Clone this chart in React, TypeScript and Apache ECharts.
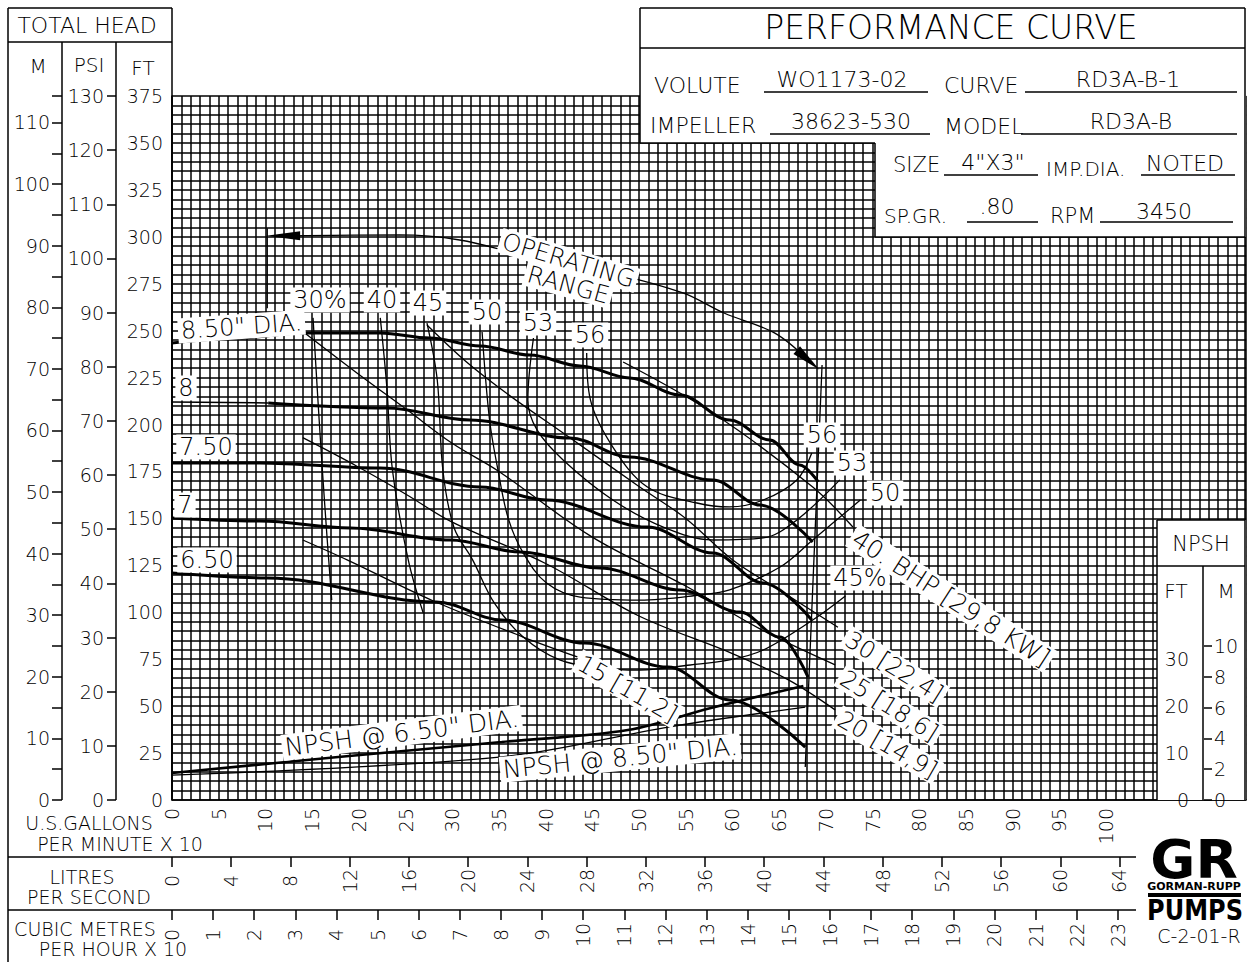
import React, { useEffect, useRef } from 'react';
import * as echarts from 'echarts';

const FONT = '"DejaVu Sans", "Liberation Sans", sans-serif';
const FW = 200;

// ---------- axis ranges ----------
const FLOW_MAX = 115;            // grid extent in US GPM x 10
const FLOW_LABEL_MAX = 100;
const HEAD_MAX = 375;            // ft
const M_PER_FT = 1 / 3.28084;
const PSI_MAX = 130;
const LPS_MAX = 64;
const M3H_MAX = 23;
const NPSH_FT_MAX = 150;         // NPSH ft at top of main grid
const NPSH_M_TOP = 10;

// ---------- head curves (x = GPM x 10, y = ft) ----------
const head850 = [[0, 243.4], [7.3, 246.1], [13.7, 248.8], [22.3, 248.8], [27.6, 246.1], [33, 241.8], [38.3, 237], [43.7, 231.2], [49, 224.8], [54.4, 215.7], [59.7, 202.4], [64, 191.8], [67.2, 178.5], [69.2, 169.4]];
const head800 = [[0, 212], [10.3, 211.5], [23, 208.8], [31.9, 202.4], [42.6, 192.8], [49, 182.7], [57.9, 170.5], [63, 157.1], [68.6, 137.4]];
const head750 = [[0, 179.5], [9.4, 179.5], [22.3, 176.8], [33, 166.7], [40.1, 159.8], [50.9, 145.4], [57.9, 131.6], [63.3, 115.6], [68.5, 95.9]];
const head700 = [[0, 150.2], [9.4, 148.6], [19.1, 144.9], [29.8, 138.5], [37.3, 132.1], [45.8, 123.6], [54.4, 111.9], [60.8, 100.1], [65.1, 86.8], [68.1, 65.5]];
const head650 = [[0, 120.9], [10.2, 118.3], [28.3, 105.5], [35.3, 95.9], [44.2, 83.6], [53.1, 70.8], [59.7, 53.3], [67.8, 28.2]];

// ---------- efficiency contours (%) ----------
const eff30 = [[15.1, 256.8], [15.6, 215], [16.1, 175.8], [16.6, 140], [17.1, 106.5]];
const eff40 = [[22.3, 256.8], [23.0, 220], [23.6, 175.8], [25.3, 127.8], [26.9, 99.6]];
const eff45 = [[27.3, 254], [28.4, 223.7], [29.0, 175.8], [30.2, 145], [32.2, 127.8], [34.5, 105], [37.6, 86.8], [41.5, 74.6], [45.8, 70.3], [50.1, 69.2], [55.5, 71.9], [59.7, 74.6], [63.3, 79.9], [68.6, 95.9], [72.1, 108.7]];
const eff50 = [[33.2, 249.3], [34.0, 202.4], [34.9, 175.8], [36.0, 150], [37.6, 131.6], [40.1, 115.6], [43.7, 108.1], [50.1, 106.5], [56.5, 109.2], [59.7, 111.9], [65.1, 124.1], [68.6, 138.5], [73.7, 159.8]];
const eff53 = [[38.7, 246.1], [38.1, 213], [39.1, 197], [41.9, 181], [47.2, 159.8], [52.6, 145.4], [57.9, 138.5], [63.3, 139.6], [66.9, 149.2], [71.5, 170.5]];
const eff56 = [[44.4, 238.1], [44.8, 213.1], [47.2, 188], [50.9, 166.7], [56.2, 158.2], [59.7, 156.1], [63.3, 159.8], [66.9, 170.5], [68.5, 184.8]];

// ---------- BHP lines ----------
const bhp40 = [[48.3, 233.3], [57.9, 206.1], [68.6, 166.7], [72.9, 145.4]];
const bhp30 = [[27.3, 253], [31.6, 233], [36, 216], [42.6, 193], [50, 167], [55, 150], [60, 128], [65, 112], [71.3, 92]];
const bhp25 = [[13.9, 250], [19.8, 227.5], [25.2, 207.7], [30, 190], [35, 175], [45, 140], [55, 114], [63, 91], [71, 72]];
const bhp20 = [[14.0, 193], [19.8, 177.8], [25, 163], [30, 148], [40, 126], [50, 98], [60, 78], [66, 64], [71, 48]];
const bhp15 = [[14.0, 138.5], [18.8, 127.8], [28, 106], [37.6, 86.8], [43.4, 76.2]];

// ---------- NPSH required (ft) ----------
const npsh650 = [[0, 5.75], [17.8, 9.16], [35.3, 12.36], [48.8, 14.9], [57.7, 19.6], [67.6, 24.3]];
const npsh850 = [[0, 5.3], [35.3, 9.2], [53.3, 15.6], [67.8, 19.8]];

// ---------- operating range ----------
const rangeCurve = [[11.9, 300.5], [24.4, 301], [30.8, 298.3], [37.6, 290.3], [47.1, 280.7], [54.7, 270.1], [59.1, 259.4], [64.5, 248.8], [68.1, 234.4]];
const rangeLeft = [[10.2, 304.6], [10.2, 262]];
const rangeRight = [[69.6, 231.7], [67.8, 17.6]];

const BLACK = '#000';

function lineSeries(data: any[], width: number, extra: any = {}) {
  return {
    type: 'line',
    data,
    xAxisIndex: 0,
    yAxisIndex: 0,
    symbol: 'none',
    showSymbol: false,
    smooth: 0.35,
    lineStyle: { color: BLACK, width },
    z: 5,
    silent: true,
    ...extra,
  };
}

function L(x1: number, y1: number, x2: number, y2: number, w = 1.5) {
  return { type: 'line', shape: { x1, y1, x2, y2 }, style: { stroke: BLACK, lineWidth: w }, z: 100, silent: true };
}
function R(x: number, y: number, width: number, height: number, fill = '#fff', z = 90) {
  return { type: 'rect', shape: { x, y, width, height }, style: { fill }, z, silent: true };
}
function T(text: string, x: number, y: number, size: number, o: any = {}) {
  return {
    type: 'text', x, y, rotation: o.rot || 0, scaleX: o.sx || 1, scaleY: o.sy || 1, z: 110, silent: true,
    style: {
      text, fontSize: size, fontFamily: FONT, fontWeight: o.fw || FW, fill: BLACK,
      align: o.align || 'center', verticalAlign: o.va || 'middle',
      backgroundColor: o.bg ? '#fff' : 'transparent', padding: o.bg ? [1, 3, 0, 3] : 0,
    },
  };
}

const gridLine = { show: true, lineStyle: { color: BLACK, width: 1.5 } };

export default function App() {
  const ref = useRef<HTMLDivElement>(null);
  useEffect(() => {
    const chart = echarts.init(ref.current as HTMLDivElement, null, { renderer: 'svg' });
    const pxPerFlow = 9.34;
    const mainW = FLOW_MAX * pxPerFlow;
    const lpsW = (LPS_MAX / 0.0630902 / 10) * pxPerFlow;
    const m3hW = (M3H_MAX / 0.227125) * pxPerFlow;

    const axisLabel = { color: BLACK, fontSize: 19, fontFamily: FONT, fontWeight: FW };

    const option: any = {
      animation: false,
      backgroundColor: '#fff',
      textStyle: { fontFamily: FONT },
      grid: [
        { left: 172, top: 96, width: mainW, height: 704 },
        { left: 1203, top: 646, width: 1, height: 154 },
        { left: 172, top: 852, width: lpsW, height: 5 },
        { left: 172, top: 905, width: m3hW, height: 5 },
      ],
      xAxis: [
        {
          gridIndex: 0, type: 'value', min: 0, max: FLOW_MAX, interval: 5,
          axisLine: { show: true, lineStyle: { color: BLACK, width: 1.5 } },
          axisTick: { show: false },
          axisLabel: { ...axisLabel, rotate: 90, margin: 8, formatter: (v: number) => (v <= FLOW_LABEL_MAX ? String(v) : '') },
          splitLine: gridLine,
          minorTick: { show: false, splitNumber: 5 },
          minorSplitLine: gridLine,
        },
        { gridIndex: 1, type: 'value', min: 0, max: 1, show: false },
        {
          gridIndex: 2, type: 'value', min: 0, max: LPS_MAX, interval: 4,
          axisLine: { show: false },
          axisTick: { show: true, length: 10, lineStyle: { color: BLACK, width: 1.5 } },
          axisLabel: { ...axisLabel, rotate: 90, margin: 24, align: 'center' },
          splitLine: { show: false },
        },
        {
          gridIndex: 3, type: 'value', min: 0, max: M3H_MAX, interval: 1,
          axisLine: { show: false },
          axisTick: { show: true, length: 10, lineStyle: { color: BLACK, width: 1.5 } },
          axisLabel: { ...axisLabel, rotate: 90, margin: 25, align: 'center' },
          splitLine: { show: false },
        },
      ],
      yAxis: [
        {
          gridIndex: 0, type: 'value', position: 'left', min: 0, max: HEAD_MAX, interval: 25,
          axisLine: { show: true, lineStyle: { color: BLACK, width: 1.5 } },
          axisTick: { show: false },
          axisLabel: { ...axisLabel, margin: 9 },
          splitLine: gridLine,
          minorTick: { show: false, splitNumber: 5 },
          minorSplitLine: gridLine,
        },
        {
          gridIndex: 0, type: 'value', position: 'left', offset: 110, min: 0, max: HEAD_MAX * M_PER_FT, interval: 5,
          axisLine: { show: false },
          axisTick: { show: true, length: 10, lineStyle: { color: BLACK, width: 1.5 } },
          axisLabel: { ...axisLabel, margin: 12, formatter: (v: number) => (v % 10 === 0 ? String(v) : '') },
          splitLine: { show: false },
        },
        {
          gridIndex: 0, type: 'value', position: 'left', offset: 56, min: 0, max: PSI_MAX, interval: 10,
          axisLine: { show: false },
          axisTick: { show: true, length: 9, lineStyle: { color: BLACK, width: 1.5 } },
          axisLabel: { ...axisLabel, margin: 12 },
          splitLine: { show: false },
        },
        {
          gridIndex: 1, type: 'value', position: 'left', min: 0, max: NPSH_M_TOP / M_PER_FT, interval: 10, z: 200,
          axisLine: { show: false }, axisTick: { show: false },
          axisLabel: { ...axisLabel, margin: 14, formatter: (v: number) => (v % 10 === 0 ? String(v) : '') },
          splitLine: { show: false },
        },
        {
          gridIndex: 1, type: 'value', position: 'right', min: 0, max: NPSH_M_TOP, interval: 2, z: 200,
          axisLine: { show: false },
          axisTick: { show: true, length: 8, lineStyle: { color: BLACK, width: 1.5 } },
          axisLabel: { ...axisLabel, margin: 10 },
          splitLine: { show: false },
        },
        { gridIndex: 0, type: 'value', min: 0, max: NPSH_FT_MAX, show: false },
        { gridIndex: 2, type: 'value', show: false },
        { gridIndex: 3, type: 'value', show: false },
      ],
      series: [
        lineSeries(head850, 3, { smoothMonotone: 'x' }),
        lineSeries(head800.slice(0, 2), 1.4, { smooth: false }),
        lineSeries(head800.slice(1), 3, { smoothMonotone: 'x' }),
        lineSeries(head750, 3, { smoothMonotone: 'x' }),
        lineSeries(head700, 3, { smoothMonotone: 'x' }),
        lineSeries(head650, 3, { smoothMonotone: 'x' }),
        lineSeries(eff30, 1.3),
        lineSeries(eff40, 1.3),
        lineSeries(eff45, 1.3),
        lineSeries(eff50, 1.3),
        lineSeries(eff53, 1.3),
        lineSeries(eff56, 1.3),
        lineSeries(bhp40, 1.3),
        lineSeries(bhp30, 1.3),
        lineSeries(bhp25, 1.3),
        lineSeries(bhp20, 1.3),
        lineSeries(bhp15, 1.3),
        lineSeries(npsh650, 2.6, { yAxisIndex: 5 }),
        lineSeries(npsh850, 1.3, { yAxisIndex: 5 }),
        lineSeries(
          rangeCurve.map((p, i) =>
            i === 0
              ? { value: p, symbol: 'triangle', symbolSize: [9, 34], symbolRotate: 90 }
              : i === rangeCurve.length - 1
                ? { value: p, symbol: 'triangle', symbolSize: [10, 30], symbolRotate: -131 }
                : { value: p, symbol: 'none' }
          ),
          1.3,
          { showSymbol: true, symbol: 'none', itemStyle: { color: BLACK }, z: 6 }
        ),
        lineSeries(rangeLeft, 1.3, { smooth: false }),
        lineSeries(rangeRight, 1.3, { smooth: false }),
      ],
      graphic: [
        // white masks over grid
        R(640, 8, 606, 135),
        R(875, 140, 371, 97),
        R(1157, 520, 89, 280),
        // frame & boxes
        L(8, 8, 172, 8), L(8, 8, 8, 962), L(8, 42, 172, 42), L(172, 8, 172, 800),
        L(62, 42, 62, 800), L(116, 42, 116, 800),
        L(640, 8, 1245, 8), L(1245, 8, 1245, 800), L(640, 48, 1245, 48), L(640, 8, 640, 143),
        L(640, 143, 875, 143), L(875, 143, 875, 237), L(875, 237, 1245, 237),
        L(1157, 520, 1245, 520), L(1157, 520, 1157, 800), L(1157, 566, 1245, 566), L(1203, 566, 1203, 800),
        L(8, 857, 1136, 857), L(8, 910, 1136, 910),
        // table underlines
        L(764, 92, 928, 92, 1.3), L(1025, 92, 1237, 92, 1.3),
        L(770, 134, 930, 134, 1.3), L(1021, 134, 1237, 134, 1.3),
        L(944, 175, 1038, 175, 1.3), L(1141, 175, 1235, 175, 1.3),
        L(967, 222, 1038, 222, 1.3), L(1100, 222, 1233, 222, 1.3),
        // header texts
        T('TOTAL HEAD', 87, 25, 22),
        T('M', 38, 66, 20), T('PSI', 89, 65, 20), T('FT', 143, 68, 20),
        T('PERFORMANCE CURVE', 951, 27, 33),
        T('VOLUTE', 654, 85, 22, { align: 'left' }),
        T('WO1173-02', 842, 79, 22),
        T('CURVE', 944, 85, 22, { align: 'left' }),
        T('RD3A-B-1', 1128, 79, 22),
        T('IMPELLER', 650, 125, 22, { align: 'left' }),
        T('38623-530', 851, 121, 22),
        T('MODEL', 944, 126, 22, { align: 'left' }),
        T('RD3A-B', 1131, 121, 22),
        T('SIZE', 893, 165, 21, { align: 'left' }),
        T('4"X3"', 993, 162, 22),
        T('IMP.DIA.', 1046, 169, 20, { align: 'left' }),
        T('NOTED', 1185, 163, 22),
        T('SP.GR.', 884, 216, 20, { align: 'left' }),
        T('.80', 997, 206, 22),
        T('RPM', 1050, 216, 21, { align: 'left' }),
        T('3450', 1164, 211, 22),
        // axis captions
        T('U.S.GALLONS', 89, 823, 19), T('PER MINUTE X 10', 120, 844, 19),
        T('LITRES', 82, 877, 19), T('PER SECOND', 89, 897, 19),
        T('CUBIC METRES', 85, 929, 19), T('PER HOUR X 10', 113, 949, 19),
        T('NPSH', 1201, 544, 21), T('FT', 1176, 591, 20), T('M', 1226, 591, 20),
        // logo
        T('GR', 1194, 860, 50, { fw: 900, sx: 1.1, sy: 1.05 }),
        T('GORMAN-RUPP', 1194, 886, 11, { fw: 'bold' }),
        R(1148, 893, 93, 4, BLACK, 110),
        T('PUMPS', 1195, 910, 24, { fw: 'bold', sy: 1.15 }),
        T('C-2-01-R', 1199, 936, 19),
        // curve labels
        T('30%', 320, 300, 24, { bg: true }),
        T('40', 382, 300, 24, { bg: true }),
        T('45', 428, 303, 24, { bg: true }),
        T('50', 487, 312, 24, { bg: true }),
        T('53', 538, 323, 24, { bg: true }),
        T('56', 590, 335, 24, { bg: true }),
        T('8.50" DIA.', 178, 331, 24, { bg: true, align: 'left', rot: 0.07 }),
        T('8', 186, 388, 24, { bg: true }),
        T('7.50', 206, 447, 24, { bg: true }),
        T('7', 185, 505, 24, { bg: true }),
        T('6.50', 207, 560, 24, { bg: true }),
        T('56', 822, 435, 24, { bg: true }),
        T('53', 852, 463, 24, { bg: true }),
        T('50', 885, 493, 24, { bg: true }),
        T('45%', 860, 578, 24, { bg: true }),
        T('OPERATING', 500, 240, 24, { bg: true, align: 'left', rot: -0.29 }),
        T('RANGE', 525, 273, 24, { bg: true, align: 'left', rot: -0.27 }),
        T('40. BHP [29,8 KW]', 852, 535, 25, { bg: true, align: 'left', rot: -0.57 }),
        T('30 [22,4]', 845, 636, 24, { bg: true, align: 'left', rot: -0.56 }),
        T('25 [18,6]', 840, 675, 24, { bg: true, align: 'left', rot: -0.56 }),
        T('20 [14,9]', 837, 716, 24, { bg: true, align: 'left', rot: -0.52 }),
        T('15 [11,2]', 577, 660, 24, { bg: true, align: 'left', rot: -0.52 }),
        T('NPSH @ 6.50" DIA.', 282, 748, 25, { bg: true, align: 'left', rot: 0.125 }),
        T('NPSH @ 8.50" DIA.', 500, 770, 25, { bg: true, align: 'left', rot: 0.1 }),
      ],
    };
    chart.setOption(option);
    return () => chart.dispose();
  }, []);
  return <div ref={ref} style={{ position: 'absolute', left: 0, top: 0, width: 1250, height: 965 }} />;
}
